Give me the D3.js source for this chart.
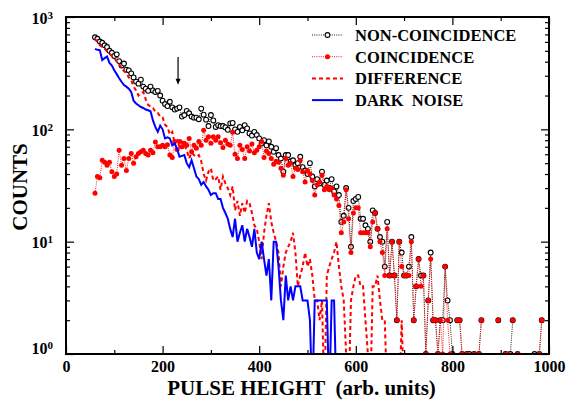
<!DOCTYPE html>
<html>
<head>
<meta charset="utf-8">
<script src="https://cdn.jsdelivr.net/npm/d3@7"></script>
<style>
  body { margin: 0; background: #fff; }
  text { font-family: "Liberation Serif", "Times New Roman", serif; font-weight: bold; }
</style>
</head>
<body>
<div id="chart_div"></div>
<script>
// pulse height bins (arb. units), 5 units wide, first bin at 60
var bin_start = 60;
var bin_width = 5;

var non_coincidence = [
    660, 640, 605, 590, 560, 540, 500, 480, 450, 465,
    405, 370, 385, 340, 335, 315, 290, 266, 255, 277,
    240, 230, 220, 240, 222, 215, 220, 200, 180, 168,
    161, 176, 157, 150, 153, 157, 130, 134, 146, 139,
    130, 127, 127, 123, 153, 135, 122, 107, 134, 120,
    105, 109, 107, 107, 104, 99, 113, 114, 100, 95,
    105, 98, 109, 102, 92, 88, 95, 89, 83, 75,
    80, 72, 78, 70, 63, 68, 59, 55, 42, 59,
    59, 52, 53, 48, 50, 57, 46, 43, 40, 50,
    38, 31, 36, 33, 42, 32, 35, 30, 36, 28,
    31, 26, 15, 17, 30, 20, 9, 23, 24, 25,
    16, 16, 14, 13, 10, 19, 18, 13, 11, 10,
    6, 15, 5, 10, 5, 2, 10, 8, 5, 5,
    6, 11, 2, 4, 7, 5, 5, 1, 3, 8,
    2, 2, 1, 2, 2, 6, 3, 2, 1, 0,
    2, 2, 1, 0, 1, 1, 0, 1, 0, 1,
    2, 0, 0, 0, 0, 0, 0, 2, 0, 0,
    1, 0, 1, 2, 0, 1, 0, 0, 0, 0,
    0, 0, 1, 0, 1, 2, 0, 0, 0
];

var coincidence = [
    27, 38, 37, 53, 51, 48, 51, 42, 38, 40,
    65, 48, 55, 43, 55, 61, 50, 57, 61, 63,
    65, 61, 59, 65, 62, 77, 70, 70, 72, 70,
    73, 59, 56, 78, 66, 78, 70, 75, 72, 83,
    63, 72, 68, 78, 72, 98, 80, 86, 75, 86,
    80, 86, 76, 69, 80, 74, 72, 94, 60, 55,
    72, 66, 55, 70, 64, 74, 62, 65, 70, 78,
    56, 64, 61, 55, 49, 52, 51, 45, 39, 55,
    48, 50, 38, 45, 44, 53, 42, 34, 43, 40,
    35, 26, 32, 34, 39, 29, 31, 29, 30, 26,
    24, 21, 12, 15, 29, 16, 8, 18, 20, 20,
    12, 12, 12, 12, 9, 15, 18, 13, 10, 8,
    5, 13, 5, 10, 5, 2, 10, 6, 5, 5,
    5, 10, 2, 4, 7, 4, 5, 1, 3, 7,
    2, 2, 1, 2, 1, 6, 2, 1, 1, 0,
    2, 2, 1, 0, 1, 0, 0, 1, 0, 1,
    2, 0, 0, 0, 0, 0, 0, 2, 0, 0,
    1, 1, 0, 2, 0, 1, 0, 0, 0, 0,
    0, 0, 0, 0, 1, 2, 0, 0, 0
];

var difference = [
    640, 600, 560, 540, 520, 495, 470, 450, 430, 400,
    380, 350, 330, 315, 290, 275, 240, 222, 200, 210,
    215, 185, 165, 160, 155, 143, 140, 130, 128, 110,
    105, 90, 95, 75, 80, 70, 78, 72, 65, 55,
    62, 59, 57, 59, 52, 40, 35, 42, 45, 35,
    36, 38, 29, 38, 33, 30, 26, 31, 19, 23,
    17, 22, 18, 23, 22, 18, 14, 13, 10, 7,
    12, 17, 22, 15, 12, 10, 8, 4, 6, 8,
    9, 10, 12, 8, 4, 5, 6, 8, 6, 7,
    5, 3, 3, 2, 3, 0, 5, 6, 7, 8,
    10, 6, 4, 3, 1, 0, 3, 4, 5, 5,
    4, 4, 2, 1, 0, 4, 4, 5, 3, 2,
    2, 0, 0, 0, 0, 0, 0, 2, 0
];

var dark_noise = [
    520, 510, 507, 414, 430, 444, 390, 370, 335, 310,
    285, 265, 248, 240, 230, 215, 180, 170, 164, 158,
    155, 150, 148, 145, 120, 105, 95, 108, 100, 83,
    85, 83, 72, 75, 67, 57, 58, 59, 50, 46,
    53, 45, 38, 36, 32, 34, 31, 29, 26, 27,
    27, 24, 24, 20, 18, 16, 13, 11, 16, 10,
    12, 14, 10, 13, 11, 9, 13, 8, 7, 10,
    7, 5, 7, 3, 10, 10, 6, 3, 2, 5,
    3, 4, 3, 4, 4, 4, 3, 3, 3, 2,
    0, 3, 3, 3, 3, 3, 3, 0, 3, 3,
    0
];

var x_major_ticks = [0, 200, 400, 600, 800, 1000];
var x_minor_ticks = [100, 300, 500, 700, 900];
var y_decades = [1, 10, 100, 1000];

var legend_labels = ['NON-COINCIDENCE', 'COINCIDENCE', 'DIFFERENCE', 'DARK  NOISE'];
var x_title = 'PULSE HEIGHT  (arb. units)';
var y_title = 'COUNTS';
var arrow_at = { x: 232, from: 440, to: 250 };

function figure() {
    var margin = ({ top: 17, right: 24, bottom: 47, left: 66 });
    var total_width = 573;
    var total_height = 401;
    var width = total_width - margin.left - margin.right;
    var height = total_height - margin.top - margin.bottom;

    var svg = d3.select('#chart_div')
        .append('svg')
        .attr('width', total_width)
        .attr('height', total_height);

    var x = d3.scaleLinear().domain([0, 1000]).range([0, width]);
    var y = d3.scaleLog().domain([1, 1000]).range([height, 0]);

    var g = svg.append('g')
        .attr('transform', `translate(${margin.left}, ${margin.top})`);

    g.append('clipPath')
        .attr('id', 'plot_clip')
        .append('rect')
        .attr('width', width)
        .attr('height', height);

    function to_points(values) {
        return values.map(function(v, i) { return { x: bin_start + i * bin_width, v: v }; });
    }

    // zero counts fall below the log axis; lines drop out of the frame there
    var floor_value = 0.4;
    var line_through_zero = d3.line()
        .x(function(d) { return x(d.x); })
        .y(function(d) { return y(Math.max(d.v, floor_value)); });
    var line_skip_zero = d3.line()
        .defined(function(d) { return d.v > 0; })
        .x(function(d) { return x(d.x); })
        .y(function(d) { return y(d.v); });

    var plot = g.append('g').attr('clip-path', 'url(#plot_clip)');

    var nc_points = to_points(non_coincidence);
    var c_points = to_points(coincidence);

    plot.append('path')
        .datum(nc_points)
        .attr('d', line_skip_zero)
        .attr('fill', 'none')
        .attr('stroke', '#000')
        .attr('stroke-width', 0.9)
        .attr('stroke-dasharray', '1,1.2');

    plot.selectAll('circle.nc')
        .data(nc_points.filter(function(d) { return d.v > 0; }))
        .enter()
        .append('circle')
        .attr('class', 'nc')
        .attr('cx', function(d) { return x(d.x); })
        .attr('cy', function(d) { return y(d.v); })
        .attr('r', 2.4)
        .attr('fill', '#fff')
        .attr('stroke', '#000')
        .attr('stroke-width', 1.1);

    plot.append('path')
        .datum(c_points)
        .attr('d', line_skip_zero)
        .attr('fill', 'none')
        .attr('stroke', '#ff0000')
        .attr('stroke-width', 0.9)
        .attr('stroke-dasharray', '1,1.2');

    plot.selectAll('circle.c')
        .data(c_points.filter(function(d) { return d.v > 0; }))
        .enter()
        .append('circle')
        .attr('class', 'c')
        .attr('cx', function(d) { return x(d.x); })
        .attr('cy', function(d) { return y(d.v); })
        .attr('r', 2.5)
        .attr('fill', '#ff0000');

    plot.append('path')
        .datum(to_points(difference))
        .attr('d', line_through_zero)
        .attr('fill', 'none')
        .attr('stroke', '#ff0000')
        .attr('stroke-width', 2)
        .attr('stroke-dasharray', '4,3');

    plot.append('path')
        .datum(to_points(dark_noise))
        .attr('d', line_through_zero)
        .attr('fill', 'none')
        .attr('stroke', '#0000ff')
        .attr('stroke-width', 2);

    // arrow
    var ax = x(arrow_at.x);
    g.append('line')
        .attr('x1', ax).attr('x2', ax)
        .attr('y1', y(arrow_at.from)).attr('y2', y(arrow_at.to) - 4)
        .attr('stroke', '#000')
        .attr('stroke-width', 1.2);
    g.append('path')
        .attr('d', `M${ax - 2.5},${y(arrow_at.to) - 6} L${ax + 2.5},${y(arrow_at.to) - 6} L${ax},${y(arrow_at.to)} Z`)
        .attr('fill', '#000');

    // axes, ticks pointing inward on all four sides
    var y_minor = [];
    [1, 10, 100].forEach(function(d) {
        for (var k = 2; k <= 9; k++) { y_minor.push(d * k); }
    });

    g.append('g')
        .attr('transform', `translate(0, ${height})`)
        .call(d3.axisBottom(x).tickValues(x_major_ticks).tickSize(-8).tickPadding(7).tickFormat(d3.format('d')))
        .call(style_axis);
    g.append('g')
        .attr('transform', `translate(0, ${height})`)
        .call(d3.axisBottom(x).tickValues(x_minor_ticks).tickSize(-4).tickFormat(''))
        .call(style_axis);
    g.append('g')
        .call(d3.axisTop(x).tickValues(x_major_ticks).tickSize(-8).tickFormat(''))
        .call(style_axis);
    g.append('g')
        .call(d3.axisTop(x).tickValues(x_minor_ticks).tickSize(-4).tickFormat(''))
        .call(style_axis);

    var y_left = g.append('g')
        .call(d3.axisLeft(y).tickValues(y_decades).tickSize(-8).tickPadding(13).tickFormat(function() { return ' '; }))
        .call(style_axis);
    g.append('g')
        .call(d3.axisLeft(y).tickValues(y_minor).tickSize(-4).tickFormat(''))
        .call(style_axis);
    g.append('g')
        .attr('transform', `translate(${width}, 0)`)
        .call(d3.axisRight(y).tickValues(y_decades).tickSize(-8).tickFormat(''))
        .call(style_axis);
    g.append('g')
        .attr('transform', `translate(${width}, 0)`)
        .call(d3.axisRight(y).tickValues(y_minor).tickSize(-4).tickFormat(''))
        .call(style_axis);

    y_left.selectAll('.tick text')
        .text(null)
        .attr('dy', function(d) { return d === 1 ? '-0.05em' : '0.38em'; })
        .each(function(d) {
            var t = d3.select(this);
            t.append('tspan').text('10');
            t.append('tspan')
                .attr('dy', '-0.45em')
                .style('font-size', '11px')
                .text(Math.round(Math.log10(d)));
        });

    g.append('rect')
        .attr('width', width)
        .attr('height', height)
        .attr('fill', 'none')
        .attr('stroke', '#000')
        .attr('stroke-width', 2);

    function style_axis(sel) {
        sel.select('.domain').remove();
        sel.selectAll('.tick line').attr('stroke', '#000').attr('stroke-width', 1.2);
        sel.selectAll('.tick text')
            .filter(function() { return this.textContent === ''; })
            .remove();
        sel.selectAll('.tick text')
            .attr('fill', '#000')
            .style('font-family', '"Liberation Serif", "Times New Roman", serif')
            .style('font-weight', 'bold')
            .style('font-size', '16px');
    }

    // titles
    svg.append('text')
        .attr('x', margin.left + width / 2 - 6)
        .attr('y', 395)
        .attr('text-anchor', 'middle')
        .style('font-size', '21px')
        .style('white-space', 'pre')
        .text(x_title);

    svg.append('text')
        .attr('transform', `translate(27, 187) rotate(-90)`)
        .attr('text-anchor', 'middle')
        .style('font-size', '21px')
        .text(y_title);

    // legend
    var legend = svg.append('g').attr('transform', 'translate(312, 35)');
    var row = 21.7;
    var styles = [
        { stroke: '#000', width: 0.9, dash: '1,1.2', marker: 'open' },
        { stroke: '#ff0000', width: 0.9, dash: '1,1.2', marker: 'filled' },
        { stroke: '#ff0000', width: 2, dash: '4,3', marker: null },
        { stroke: '#0000ff', width: 2, dash: null, marker: null }
    ];
    legend_labels.forEach(function(label, i) {
        var s = styles[i];
        var ly = i * row;
        legend.append('line')
            .attr('x1', 0).attr('x2', 31)
            .attr('y1', ly).attr('y2', ly)
            .attr('stroke', s.stroke)
            .attr('stroke-width', s.width)
            .attr('stroke-dasharray', s.dash);
        if (s.marker === 'open') {
            legend.append('circle').attr('cx', 15.5).attr('cy', ly).attr('r', 2.4)
                .attr('fill', '#fff').attr('stroke', '#000').attr('stroke-width', 1.1);
        } else if (s.marker === 'filled') {
            legend.append('circle').attr('cx', 15.5).attr('cy', ly).attr('r', 2.5)
                .attr('fill', '#ff0000');
        }
        legend.append('text')
            .attr('x', 43)
            .attr('y', ly + 6)
            .style('font-size', '16.5px')
            .style('white-space', 'pre')
            .text(label);
    });
}

figure();
</script>
</body>
</html>
